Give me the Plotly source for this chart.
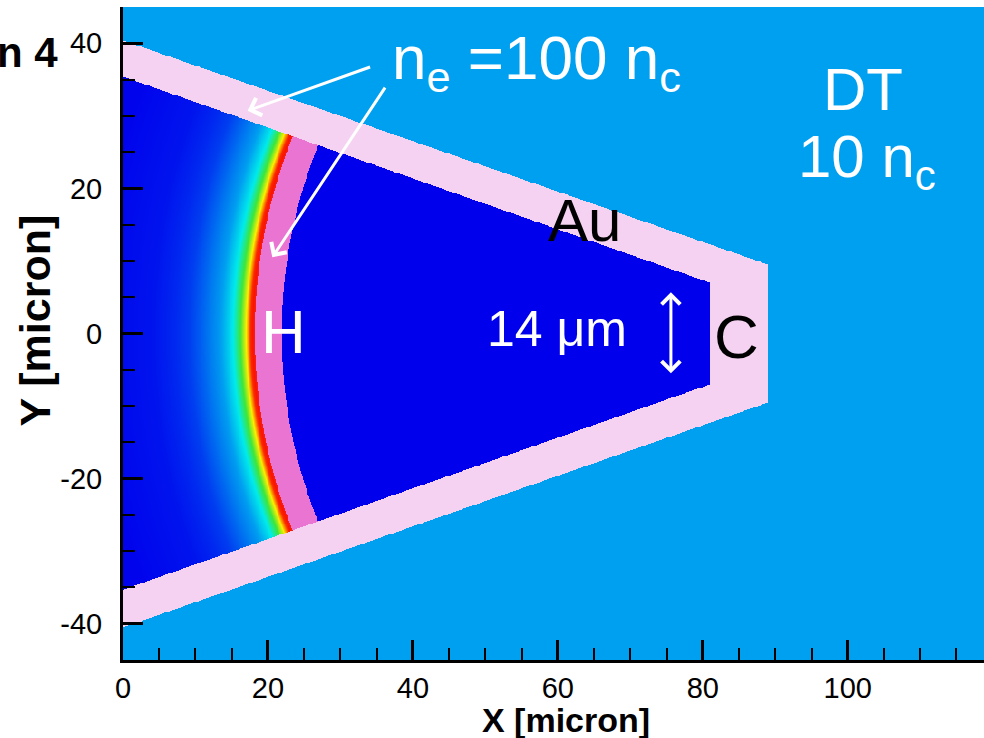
import numpy as np
import plotly.graph_objects as go

# ---- cone target geometry (microns) ----
# outer and inner edges of the Au cone wall, straight lines from x=0 to the tip
outer_edge_x = [0.0, 89.0]
outer_top_y = [40.4, 9.5]
outer_bot_y = [-40.5, -9.5]
inner_edge_x = [0.0, 81.0]
inner_top_y = [35.4, 7.0]
inner_bot_y = [-35.3, -7.0]

# curved H layer: annulus centred on the axis
arc_center_x = 91.5
h_inner_radius = 69.6
h_outer_radius = 73.3

# density level of the expanding front, vs distance outside the H layer
front_distance = [0.0, 0.6, 1.2, 1.9, 3.0, 4.8, 7.0, 9.0, 14.0, 22.0]
front_level = [0.76, 0.74, 0.65, 0.56, 0.45, 0.34, 0.24, 0.16, 0.06, 0.01]

# density levels of the uniform materials
level_vacuum = 0.0
level_dt = 0.35
level_h = 0.85
level_au = 1.0

# colour table
color_stops = [0.0, 0.12, 0.25, 0.35, 0.45, 0.55, 0.65, 0.75, 0.85, 1.0]
color_values = [
    "rgb(0,0,236)", "rgb(0,40,240)", "rgb(0,110,240)", "rgb(0,160,240)",
    "rgb(0,235,235)", "rgb(60,230,60)", "rgb(250,240,0)", "rgb(250,20,0)",
    "rgb(234,116,210)", "rgb(246,210,242)",
]

# axis ticks
x_tick_vals = [0, 20, 40, 60, 80, 100]
x_tick_text = ["0", "20", "40", "60", "80", "100"]
y_tick_vals = [-40, -20, 0, 20, 40]
y_tick_text = ["-40", "-20", "0", "20", "40"]

x_range = [0.0, 118.8]
y_range = [-45.0, 45.0]

# ---- density map ----
xs = np.linspace(x_range[0], x_range[1], 951)
ys = np.linspace(y_range[0], y_range[1], 721)
X, Y = np.meshgrid(xs, ys)

o_top = np.interp(X, outer_edge_x, outer_top_y)
o_bot = np.interp(X, outer_edge_x, outer_bot_y)
i_top = np.interp(X, inner_edge_x, inner_top_y)
i_bot = np.interp(X, inner_edge_x, inner_bot_y)

in_outer = (X <= outer_edge_x[1]) & (Y <= o_top) & (Y >= o_bot)
in_inner = (X <= inner_edge_x[1]) & (Y <= i_top) & (Y >= i_bot)

R = np.hypot(X - arc_center_x, Y)

z = np.full(X.shape, level_dt, dtype=np.float32)
z[in_outer] = level_au
front = in_inner & (R > h_outer_radius)
z[front] = np.interp(R[front] - h_outer_radius, front_distance, front_level)
z[in_inner & (R >= h_inner_radius) & (R <= h_outer_radius)] = level_h
z[in_inner & (R < h_inner_radius)] = level_vacuum

colorscale = [[s, c] for s, c in zip(color_stops, color_values)]

fig = go.Figure(
    go.Heatmap(
        x=xs, y=ys, z=z,
        colorscale=colorscale, zmin=0, zmax=1,
        showscale=False, hoverinfo="skip",
    )
)

FONT = "Liberation Sans, Arial, sans-serif"

axis_common = dict(
    showline=True, linecolor="black", linewidth=3, mirror=False,
    ticks="inside", ticklen=20, tickwidth=3, tickcolor="black",
    tickmode="array", showgrid=False, zeroline=False,
    tickfont=dict(family=FONT, size=29, color="black"),
    minor=dict(tickmode="linear", tick0=0, dtick=5, ticks="inside",
               ticklen=12, tickwidth=2, tickcolor="black", showgrid=False),
)

fig.update_xaxes(range=x_range, tickvals=x_tick_vals, ticktext=x_tick_text,
                 ticklabelstandoff=0, **axis_common)
fig.update_yaxes(range=y_range, tickvals=y_tick_vals, ticktext=y_tick_text,
                 ticklabelstandoff=12, **axis_common)

annotations = []


def label(text, x, y, size, color, **kw):
    annotations.append(dict(
        text=text, x=x, y=y, xref="x", yref="y", showarrow=False,
        font=dict(family=FONT, size=size, color=color),
        xanchor="center", yanchor="middle", **kw,
    ))


label("n<sub>e</sub> =100 n<sub>c</sub>", 57.1, 37.4, 62, "white")
label("DT", 102.1, 33.6, 60, "white")
label("10 n<sub>c</sub>", 102.6, 23.8, 60, "white")
label("Au", 63.7, 15.6, 60, "black")
label("14 \u03bcm", 59.9, 0.6, 50, "white")
label("C", 84.7, -0.4, 62, "black")
label("H", 22.1, 0.3, 62, "white")


def arrow(x_tip, y_tip, x_tail, y_tail, both=False):
    annotations.append(dict(
        text="", x=x_tip, y=y_tip, ax=x_tail, ay=y_tail,
        xref="x", yref="y", axref="x", ayref="y",
        showarrow=True, arrowhead=4, startarrowhead=4,
        arrowsize=1.2, startarrowsize=1.2, arrowwidth=3,
        arrowcolor="white", arrowside="end+start" if both else "end",
        standoff=0, startstandoff=0,
    ))


arrow(17.2, 30.7, 34.3, 36.8)
arrow(20.6, 10.5, 36.3, 34.1)
arrow(75.6, 5.7, 75.6, -5.7, both=True)

# axis titles
annotations.append(dict(
    text="<b>X [micron]</b>", xref="paper", yref="paper", x=0.514, y=-0.092,
    showarrow=False, xanchor="center", yanchor="middle",
    font=dict(family=FONT, size=34, color="black"),
))
annotations.append(dict(
    text="<b>Y [micron]</b>", xref="paper", yref="paper", x=-0.102, y=0.52,
    showarrow=False, xanchor="center", yanchor="middle", textangle=-90,
    font=dict(family=FONT, size=43, color="black"),
))
# panel label at the top-left corner
annotations.append(dict(
    text="<b>Run 4</b>", xref="paper", yref="paper", x=-0.073, y=0.93,
    showarrow=False, xanchor="right", yanchor="middle",
    font=dict(family=FONT, size=42, color="black"),
))

fig.update_layout(
    width=984, height=738,
    margin=dict(l=123, r=0, t=7, b=78),
    paper_bgcolor="white", plot_bgcolor="white",
    annotations=annotations,
    showlegend=False,
)

fig.write_html("out.html")
